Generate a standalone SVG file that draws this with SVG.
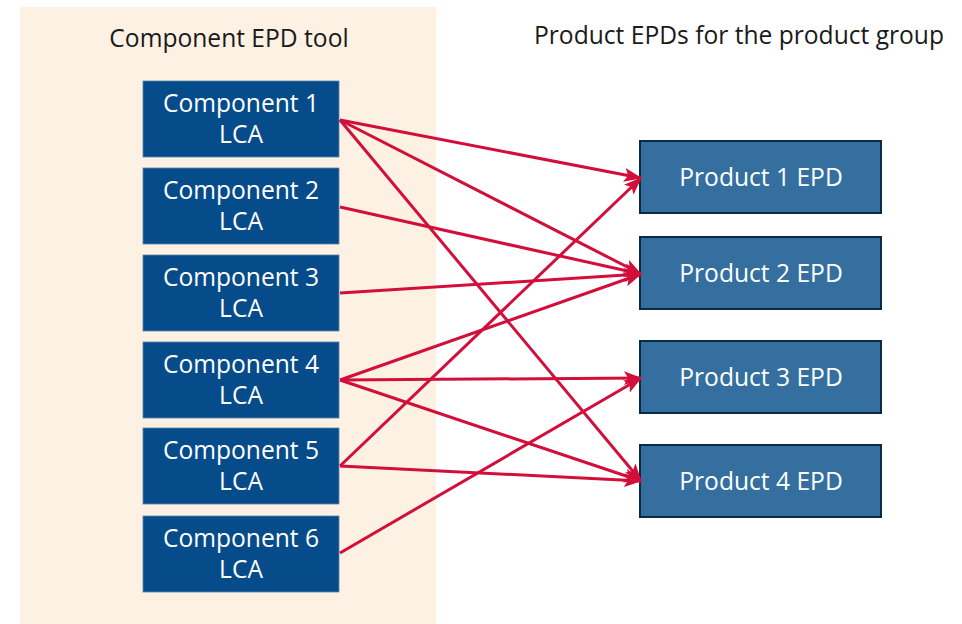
<svg xmlns="http://www.w3.org/2000/svg" width="962" height="624" viewBox="0 0 962 624">
<style>
.t{font-family:"Open Sans","Liberation Sans",sans-serif;font-size:24.6px;}
.title{fill:#1a1a1a;text-anchor:middle;}
.comp rect{fill:#064B8A;stroke:#5a86b0;stroke-width:0.8;}
.prod rect{fill:#346FA0;stroke:#0C2A44;stroke-width:2;}
.lbl{fill:#ffffff;text-anchor:middle;}
.conn line{stroke:#D20F3A;stroke-width:3;marker-end:url(#ah);}
</style>
<defs>
<marker id="ah" markerUnits="userSpaceOnUse" markerWidth="18" markerHeight="14" viewBox="0 0 18 14" refX="17" refY="7" orient="auto">
<path d="M0,0 L18,7 L0,14 L4,7 Z" fill="#D20F3A"/>
</marker>
</defs>
<rect x="20" y="7" width="416" height="617" fill="#FCF1E3"/>
<text class="t title" x="229" y="47">Component EPD tool</text>
<text class="t title" x="739" y="44">Product EPDs for the product group</text>

<g id="c1" class="comp"><rect x="143" y="81" width="196" height="76"/><text class="t lbl" x="241" y="112">Component 1</text><text class="t lbl" x="241" y="143">LCA</text></g>
<g id="c2" class="comp"><rect x="143" y="168" width="196" height="76"/><text class="t lbl" x="241" y="199">Component 2</text><text class="t lbl" x="241" y="230">LCA</text></g>
<g id="c3" class="comp"><rect x="143" y="255" width="196" height="76"/><text class="t lbl" x="241" y="286">Component 3</text><text class="t lbl" x="241" y="317">LCA</text></g>
<g id="c4" class="comp"><rect x="143" y="342" width="196" height="76"/><text class="t lbl" x="241" y="373">Component 4</text><text class="t lbl" x="241" y="404">LCA</text></g>
<g id="c5" class="comp"><rect x="143" y="428" width="196" height="76"/><text class="t lbl" x="241" y="459">Component 5</text><text class="t lbl" x="241" y="490">LCA</text></g>
<g id="c6" class="comp"><rect x="143" y="516" width="196" height="76"/><text class="t lbl" x="241" y="547">Component 6</text><text class="t lbl" x="241" y="578">LCA</text></g>

<g id="p1" class="prod"><rect x="640" y="141" width="241" height="72"/><text class="t lbl" x="761" y="186">Product 1 EPD</text></g>
<g id="p2" class="prod"><rect x="640" y="237" width="241" height="72"/><text class="t lbl" x="761" y="282">Product 2 EPD</text></g>
<g id="p3" class="prod"><rect x="640" y="341" width="241" height="72"/><text class="t lbl" x="761" y="386">Product 3 EPD</text></g>
<g id="p4" class="prod"><rect x="640" y="445" width="241" height="72"/><text class="t lbl" x="761" y="490">Product 4 EPD</text></g>

<g id="connectors" class="conn">
<line x1="340" y1="120" x2="641" y2="178"/>
<line x1="340" y1="120" x2="641" y2="274"/>
<line x1="340" y1="120" x2="641" y2="481"/>
<line x1="340" y1="207" x2="641" y2="274"/>
<line x1="340" y1="293" x2="641" y2="274"/>
<line x1="340" y1="380" x2="641" y2="274"/>
<line x1="340" y1="380" x2="641" y2="378"/>
<line x1="340" y1="380" x2="641" y2="481"/>
<line x1="340" y1="466" x2="641" y2="178"/>
<line x1="340" y1="466" x2="641" y2="481"/>
<line x1="340" y1="553" x2="641" y2="378"/>
</g>
</svg>
